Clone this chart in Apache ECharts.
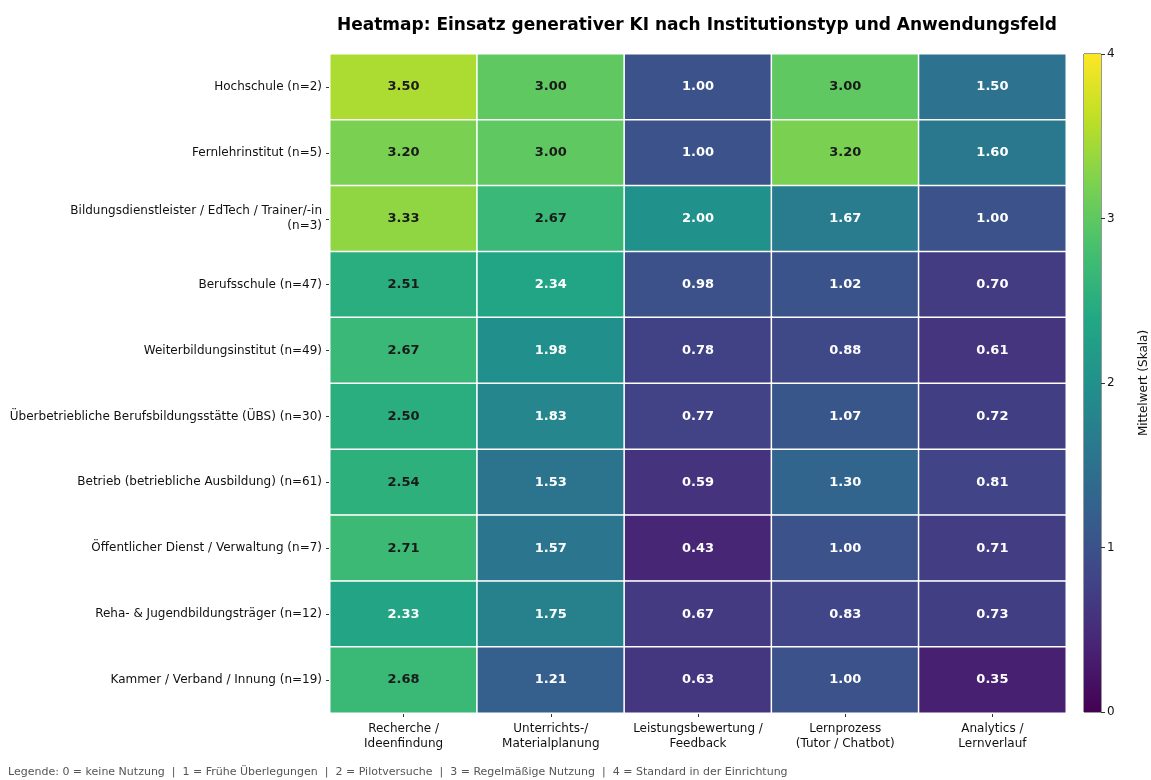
<!DOCTYPE html>
<html>
<head>
<meta charset="utf-8">
<script src="https://cdn.jsdelivr.net/npm/echarts@6/dist/echarts.min.js"></script>
<style>
  html, body {margin: 0; padding: 0; background: #fff;}
  #chart {width: 1151px; height: 780px;}
</style>
</head>
<body>
<div id="chart"></div>
<script>
// Anwendungsfelder (Spalten)
const fields = [
  'Recherche /\nIdeenfindung',
  'Unterrichts-/\nMaterialplanung',
  'Leistungsbewertung /\nFeedback',
  'Lernprozess\n(Tutor / Chatbot)',
  'Analytics /\nLernverlauf'
]
// Institutionstypen (Zeilen, von oben nach unten)
const institutions = [
  'Hochschule (n=2)',
  'Fernlehrinstitut (n=5)',
  'Bildungsdienstleister / EdTech / Trainer/-in\n(n=3)',
  'Berufsschule (n=47)',
  'Weiterbildungsinstitut (n=49)',
  'Überbetriebliche Berufsbildungsstätte (ÜBS) (n=30)',
  'Betrieb (betriebliche Ausbildung) (n=61)',
  'Öffentlicher Dienst / Verwaltung (n=7)',
  'Reha- & Jugendbildungsträger (n=12)',
  'Kammer / Verband / Innung (n=19)'
]
// Mittelwerte je Zeile
const hochschule = [3.50, 3.00, 1.00, 3.00, 1.50]
const fernlehr = [3.20, 3.00, 1.00, 3.20, 1.60]
const bildungsdl = [3.33, 2.67, 2.00, 1.67, 1.00]
const berufsschule = [2.51, 2.34, 0.98, 1.02, 0.70]
const weiterbildung = [2.67, 1.98, 0.78, 0.88, 0.61]
const uebs = [2.50, 1.83, 0.77, 1.07, 0.72]
const betrieb = [2.54, 1.53, 0.59, 1.30, 0.81]
const oeffentlich = [2.71, 1.57, 0.43, 1.00, 0.71]
const reha = [2.33, 1.75, 0.67, 0.83, 0.73]
const kammer = [2.68, 1.21, 0.63, 1.00, 0.35]
const rows = [hochschule, fernlehr, bildungsdl, berufsschule, weiterbildung, uebs, betrieb, oeffentlich, reha, kammer]

const scaleTicks = [0, 1, 2, 3, 4]
const legendText = 'Legende: 0 = keine Nutzung  |  1 = Frühe Überlegungen  |  2 = Pilotversuche  |  3 = Regelmäßige Nutzung  |  4 = Standard in der Einrichtung'

const viridis = ['#440154', '#482475', '#414487', '#355f8d', '#2a788e', '#21918c',
  '#22a884', '#44bf70', '#7ad151', '#bddf26', '#fde725']

const heatData = []
rows.forEach((r, yi) => r.forEach((v, xi) => heatData.push({
  value: [xi, yi, v],
  label: {color: v > 2.4 ? '#1a1a1a' : '#fff'}
})))

const font = 'DejaVu Sans'
const chart = echarts.init(document.getElementById('chart'))
chart.setOption({
  animation: false,
  textStyle: {fontFamily: font},
  title: {
    text: 'Heatmap: Einsatz generativer KI nach Institutionstyp und Anwendungsfeld',
    left: 692, top: 12, textAlign: 'center',
    textStyle: {fontFamily: font, fontSize: 17, fontWeight: 'bold', color: '#000'}
  },
  graphic: [{
    type: 'text', left: 8, top: 767,
    style: {text: legendText, fontFamily: font, fontSize: 11, fill: '#555'}
  }],
  grid: [
    {left: 330, right: 85, top: 54, bottom: 67, show: true, borderColor: '#444', borderWidth: 1},
    {left: 1084, width: 18, top: 54, bottom: 68, show: true, borderColor: '#333', borderWidth: 1}
  ],
  xAxis: [{
    type: 'category', data: fields, gridIndex: 0,
    axisLine: {show: false},
    axisTick: {show: true, alignWithLabel: true, length: 4, lineStyle: {color: '#333'}},
    axisLabel: {color: '#111', fontSize: 12, margin: 8, lineHeight: 15, interval: 0},
    splitLine: {show: false}
  }, {
    type: 'category', data: ['c'], gridIndex: 1, show: false
  }],
  yAxis: [{
    type: 'category', data: institutions, gridIndex: 0, inverse: true,
    axisLine: {show: false},
    axisTick: {show: true, alignWithLabel: true, length: 4, lineStyle: {color: '#333'}},
    axisLabel: {color: '#111', fontSize: 12, margin: 8, align: 'right', lineHeight: 15, interval: 0},
    splitLine: {show: false}
  }, {
    type: 'value', gridIndex: 1, position: 'right', min: 0, max: 4, interval: 1,
    axisLine: {show: false},
    axisTick: {show: true, length: 4, lineStyle: {color: '#333'}},
    axisLabel: {color: '#111', fontSize: 12, margin: 6, formatter: v => scaleTicks.includes(v) ? String(v) : ''},
    splitLine: {show: false},
    name: 'Mittelwert (Skala)', nameLocation: 'middle', nameRotate: 90, nameGap: 37,
    nameTextStyle: {fontSize: 12, color: '#111'}
  }],
  visualMap: {
    show: false, min: 0, max: 4, seriesIndex: 0, dimension: 2,
    inRange: {color: viridis}
  },
  series: [{
    type: 'heatmap', data: heatData, xAxisIndex: 0, yAxisIndex: 0,
    itemStyle: {borderColor: '#fff', borderWidth: 1.5},
    label: {
      show: true,
      fontFamily: font, fontSize: 13, fontWeight: 'bold',
      formatter: p => p.value[2].toFixed(2)
    }
  }, {
    type: 'bar', xAxisIndex: 1, yAxisIndex: 1, data: [4], barWidth: '100%',
    silent: true,
    itemStyle: {
      color: new echarts.graphic.LinearGradient(0, 1, 0, 0,
        viridis.map((c, i) => ({offset: i / (viridis.length - 1), color: c})))
    }
  }]
})
</script>
</body>
</html>
